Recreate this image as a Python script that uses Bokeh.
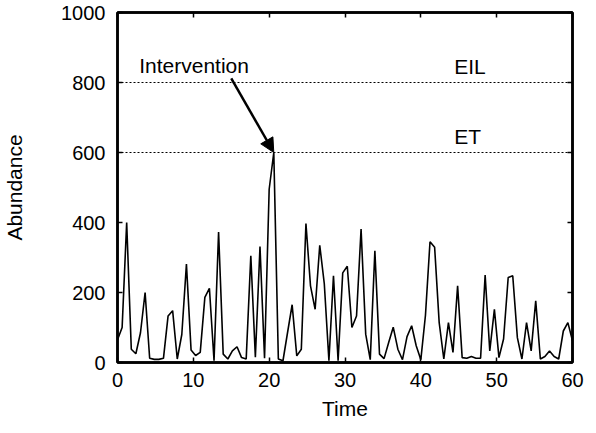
from bokeh.plotting import figure
from bokeh.models import Range1d, LinearAxis, FixedTicker, Span, Label, Arrow, NormalHead
from bokeh.embed import file_html
from bokeh.resources import INLINE

time = [0.00, 0.61, 1.21, 1.82, 2.42, 3.03, 3.64, 4.24, 4.85, 5.45,
        6.06, 6.67, 7.27, 7.88, 8.48, 9.09, 9.70, 10.30, 10.91, 11.52,
        12.12, 12.73, 13.33, 13.94, 14.55, 15.15, 15.76, 16.36, 16.97, 17.58,
        18.18, 18.79, 19.39, 20.00, 20.61, 21.21, 21.82, 22.42, 23.03, 23.64,
        24.24, 24.85, 25.45, 26.06, 26.67, 27.27, 27.88, 28.48, 29.09, 29.70,
        30.30, 30.91, 31.52, 32.12, 32.73, 33.33, 33.94, 34.55, 35.15, 35.76,
        36.36, 36.97, 37.58, 38.18, 38.79, 39.39, 40.00, 40.61, 41.21, 41.82,
        42.42, 43.03, 43.64, 44.24, 44.85, 45.45, 46.06, 46.67, 47.27, 47.88,
        48.48, 49.09, 49.70, 50.30, 50.91, 51.52, 52.12, 52.73, 53.33, 53.94,
        54.55, 55.15, 55.76, 56.36, 56.97, 57.58, 58.18, 58.79, 59.39, 60.00]

abundance = [65, 100, 400, 38, 25, 85, 200, 12, 9, 9,
             12, 133, 148, 10, 80, 281, 36, 20, 29, 186,
             212, 5, 373, 24, 10, 33, 45, 14, 10, 305,
             15, 331, 12, 495, 600, 10, 5, 85, 165, 19,
             38, 397, 219, 152, 335, 225, 5, 248, 5, 256,
             275, 100, 133, 381, 81, 8, 319, 24, 11, 57,
             101, 38, 8, 74, 105, 48, 8, 135, 345, 329,
             114, 10, 114, 29, 219, 14, 12, 17, 12, 12,
             250, 33, 152, 14, 67, 243, 248, 71, 10, 114,
             33, 176, 10, 17, 33, 17, 10, 90, 114, 62]

x_ticks = [0, 10, 20, 30, 40, 50, 60]
y_ticks = [0, 200, 400, 600, 800, 1000]
EIL = 800
ET = 600
intervention_index = 34

FONT = "Liberation Sans"
FS = "20px"
FS_AX = "21px"

p = figure(width=588, height=425, output_backend="svg", toolbar_location=None,
           x_range=Range1d(0, 60), y_range=Range1d(0, 1000),
           min_border_left=113, min_border_right=16, min_border_top=12, min_border_bottom=63)
p.grid.visible = False
p.outline_line_color = "black"
p.outline_line_width = 2.5

for ax in (p.xaxis[0], p.yaxis[0]):
    ax.major_tick_in = 5
    ax.major_tick_out = 0
    ax.minor_tick_line_color = None
    ax.axis_line_width = 2.5
    ax.major_tick_line_width = 1.5
    ax.major_label_text_font = FONT
    ax.major_label_text_font_size = FS
    ax.major_label_text_color = "black"
    ax.axis_label_text_font = FONT
    ax.axis_label_text_font_size = FS_AX
    ax.axis_label_text_font_style = "normal"
    ax.axis_label_text_color = "black"

p.xaxis.ticker = FixedTicker(ticks=x_ticks)
p.yaxis.ticker = FixedTicker(ticks=y_ticks)
p.xaxis.axis_label = "Time"
p.yaxis.axis_label = "Abundance"
p.xaxis.major_label_standoff = 10
p.yaxis.major_label_standoff = 12
p.xaxis.axis_label_standoff = 7
p.yaxis.axis_label_standoff = 32

for loc, ticks in (("right", y_ticks), ("above", x_ticks)):
    ax = LinearAxis(ticker=FixedTicker(ticks=ticks))
    ax.major_tick_in = 5
    ax.major_tick_out = 0
    ax.minor_tick_line_color = None
    ax.axis_line_width = 2.5
    ax.major_tick_line_width = 1.5
    ax.major_label_text_font_size = "1px"
    ax.major_label_text_alpha = 0
    ax.major_label_standoff = 0
    p.add_layout(ax, loc)

p.add_layout(Span(location=EIL, dimension="width", line_color="black",
                  line_dash="2 2", line_width=1))
p.add_layout(Span(location=ET, dimension="width", line_color="black",
                  line_dash="2 2", line_width=1))

p.line(time, abundance, line_color="black", line_width=1.6)

p.add_layout(Arrow(end=NormalHead(size=14, fill_color="black", line_color="black"),
                   x_start=15.0, y_start=812,
                   x_end=time[intervention_index], y_end=abundance[intervention_index],
                   line_width=2.5, line_color="black"))

p.add_layout(Label(x=10.1, y=850, text="Intervention", text_font=FONT, text_font_size=FS_AX,
                   text_align="center", text_baseline="middle", text_color="black"))
p.add_layout(Label(x=44.4, y=EIL + 12, text="EIL", text_font=FONT, text_font_size=FS_AX,
                   text_align="left", text_baseline="bottom", text_color="black"))
p.add_layout(Label(x=44.4, y=ET + 12, text="ET", text_font=FONT, text_font_size=FS_AX,
                   text_align="left", text_baseline="bottom", text_color="black"))

open("out.html", "w").write(file_html(p, INLINE))
